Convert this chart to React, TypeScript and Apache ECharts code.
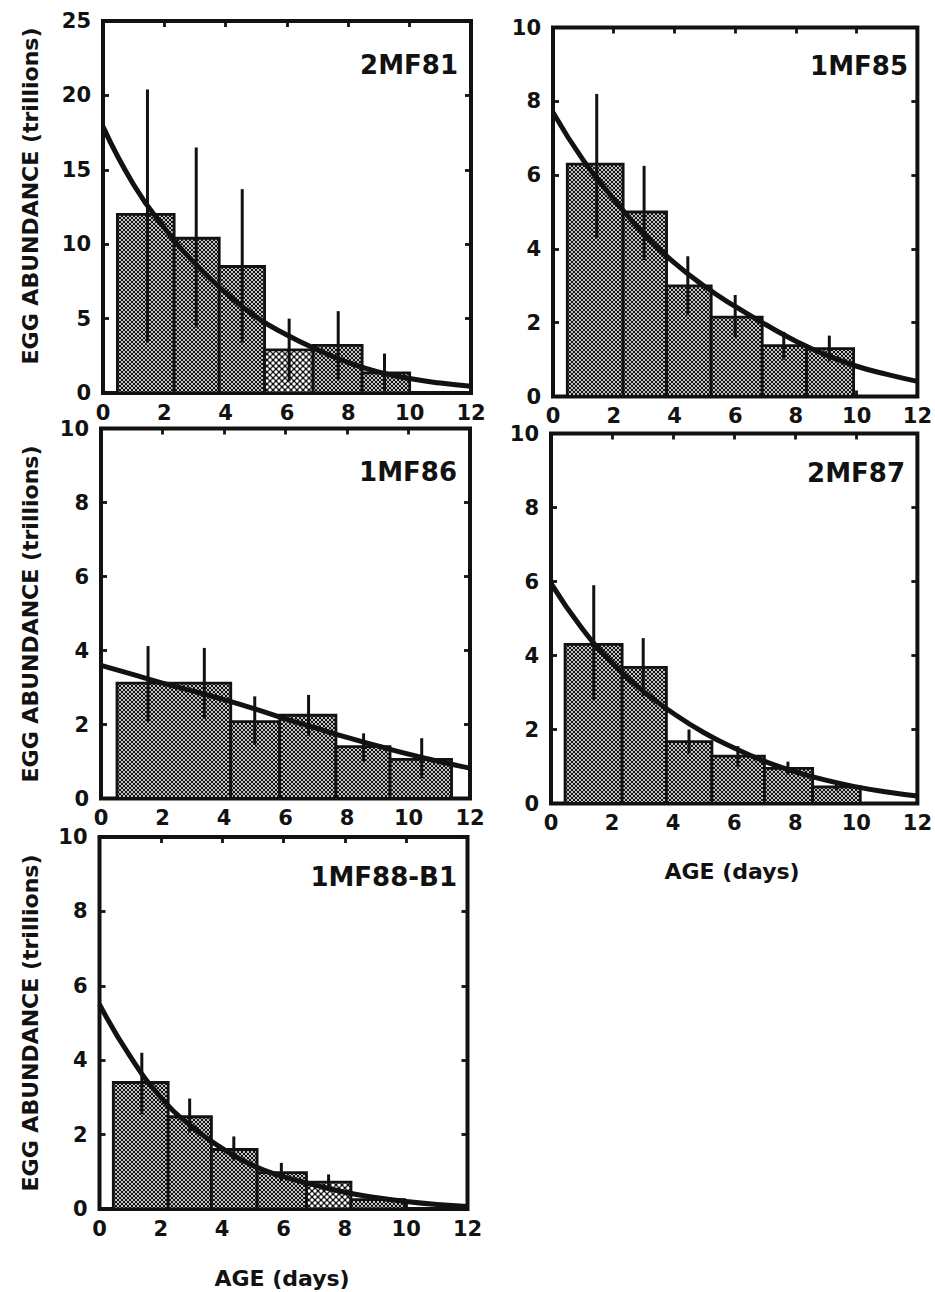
import React, { useEffect, useRef } from "react";
import * as echarts from "echarts";

// ---------- DATA ----------
// x axis: AGE (days), 0..12 step 2
const xMin = 0;
const xMax = 12;
const xStep = 2;

const panelNames = ["2MF81", "1MF85", "1MF86", "2MF87", "1MF88-B1"];
const yMaxes = [25, 10, 10, 10, 10];
const ySteps = [5, 2, 2, 2, 2];

// bins: [start age, end age, abundance]
const bins2MF81 = [[0.47, 2.32, 12.0], [2.32, 3.79, 10.4], [3.79, 5.27, 8.5], [5.27, 6.85, 2.9], [6.85, 8.45, 3.2], [8.45, 10.0, 1.35]];
const bins1MF85 = [[0.47, 2.31, 6.3], [2.31, 3.74, 5.0], [3.74, 5.21, 3.0], [5.21, 6.89, 2.15], [6.89, 8.35, 1.38], [8.35, 9.9, 1.3]];
const bins1MF86 = [[0.52, 4.22, 3.12], [4.22, 5.81, 2.08], [5.81, 7.64, 2.25], [7.64, 9.4, 1.4], [9.4, 11.4, 1.06]];
const bins2MF87 = [[0.46, 2.33, 4.3], [2.33, 3.78, 3.68], [3.78, 5.27, 1.67], [5.27, 6.99, 1.28], [6.99, 8.57, 0.95], [8.57, 10.13, 0.45]];
const bins1MF88 = [[0.45, 2.24, 3.4], [2.24, 3.65, 2.48], [3.65, 5.14, 1.6], [5.14, 6.75, 0.98], [6.75, 8.2, 0.72], [8.2, 9.95, 0.25]];

// bins drawn with the coarser hatch (indices)
const alt2MF81 = [3];
const alt1MF85: number[] = [];
const alt1MF86: number[] = [];
const alt2MF87: number[] = [];
const alt1MF88 = [4];

// error bars: [age, low, high]
const err2MF81 = [[1.45, 3.4, 20.4], [3.04, 4.4, 16.5], [4.54, 3.4, 13.7], [6.07, 0.8, 5.0], [7.67, 0.9, 5.5], [9.18, 0.1, 2.65]];
const err1MF85 = [[1.44, 4.3, 8.2], [3.0, 3.7, 6.25], [4.44, 2.2, 3.8], [6.0, 1.6, 2.75], [7.6, 1.0, 1.75], [9.1, 0.95, 1.65]];
const err1MF86 = [[1.53, 2.08, 4.12], [3.36, 2.15, 4.07], [5.0, 1.45, 2.76], [6.75, 1.7, 2.8], [8.54, 1.0, 1.76], [10.43, 0.55, 1.63]];
const err2MF87 = [[1.4, 2.8, 5.9], [3.02, 2.9, 4.47], [4.52, 1.35, 2.0], [6.12, 1.0, 1.55], [7.76, 0.77, 1.13], [9.35, 0.35, 0.55]];
const err1MF88 = [[1.38, 2.55, 4.2], [2.94, 2.05, 2.97], [4.38, 1.3, 1.95], [5.93, 0.75, 1.24], [7.47, 0.5, 0.93]];

// fitted mortality curves: [age, abundance]
const curve2MF81 = [[0, 17.9], [1, 14.0], [2, 11.1], [3, 8.7], [4, 6.75], [5, 5.1], [6, 3.9], [7, 2.9], [8, 2.05], [9, 1.4], [10, 0.97], [11, 0.67], [12, 0.45]];
const curve1MF85 = [[0, 7.7], [1, 6.4], [2, 5.35], [3, 4.4], [4, 3.62], [5, 2.98], [6, 2.44], [7, 1.95], [8, 1.5], [9, 1.12], [10, 0.82], [11, 0.6], [12, 0.41]];
const curve1MF86 = [[0, 3.6], [1, 3.36], [2, 3.12], [3, 2.9], [4, 2.67], [5, 2.42], [6, 2.15], [7, 1.9], [8, 1.65], [9, 1.42], [10, 1.2], [11, 1.0], [12, 0.82]];
const curve2MF87 = [[0, 5.95], [1, 4.75], [2, 3.8], [3, 3.05], [4, 2.44], [5, 1.92], [6, 1.5], [7, 1.14], [8, 0.86], [9, 0.63], [10, 0.45], [11, 0.31], [12, 0.2]];
const curve1MF88 = [[0, 5.5], [1, 4.1], [2, 3.0], [3, 2.22], [4, 1.63], [5, 1.17], [6, 0.87], [7, 0.65], [8, 0.45], [9, 0.31], [10, 0.2], [11, 0.12], [12, 0.07]];

const yTitle = "EGG ABUNDANCE (trillions)";
const xTitle = "AGE (days)";

const allBins = [bins2MF81, bins1MF85, bins1MF86, bins2MF87, bins1MF88];
const allAlt = [alt2MF81, alt1MF85, alt1MF86, alt2MF87, alt1MF88];
const allErr = [err2MF81, err1MF85, err1MF86, err2MF87, err1MF88];
const allCurve = [curve2MF81, curve1MF85, curve1MF86, curve2MF87, curve1MF88];

// ---------- LAYOUT ----------
const layout = [
  { left: 103, top: 21, width: 368, height: 372, lx: 458, ly: 65, yt: [30, 196] as number[] | null, xt: null as number[] | null },
  { left: 553, top: 27.5, width: 367, height: 369, lx: 908, ly: 66, yt: null, xt: null },
  { left: 101, top: 428.5, width: 369, height: 370, lx: 457, ly: 472, yt: [30, 614], xt: null },
  { left: 551, top: 433.5, width: 367, height: 370, lx: 905, ly: 473, yt: null, xt: [732, 871] },
  { left: 99.5, top: 837, width: 368, height: 372, lx: 457, ly: 877, yt: [30, 1023], xt: [282, 1278] },
];

const INK = "#121212";
const FONT = "DejaVu Sans";

function makePattern(period: number, r: number) {
  const c = document.createElement("canvas");
  c.width = period;
  c.height = period;
  const ctx = c.getContext("2d")!;
  ctx.fillStyle = INK;
  ctx.fillRect(0, 0, period, period);
  ctx.fillStyle = "#ffffff";
  const pts = [[0, 0], [period, 0], [0, period], [period, period], [period / 2, period / 2]];
  for (const [x, y] of pts) {
    ctx.beginPath();
    ctx.arc(x, y, r, 0, Math.PI * 2);
    ctx.fill();
  }
  return { image: c, repeat: "repeat", imageWidth: period, imageHeight: period } as any;
}

export default function App() {
  const ref = useRef<HTMLDivElement>(null);

  useEffect(() => {
    document.body.style.margin = "0";
    if (!ref.current) return;
    const chart = echarts.init(ref.current, undefined, { renderer: "svg" });
    const pattern = makePattern(4, 1.0);
    const altPattern = makePattern(6, 1.7);

    const grids: any[] = [];
    const xAxes: any[] = [];
    const yAxes: any[] = [];
    const series: any[] = [];
    const graphic: any[] = [];

    const tick = { show: true, inside: true, length: 6, lineStyle: { color: INK, width: 2.8 } };
    const label = { color: INK, fontFamily: FONT, fontWeight: "bold", fontSize: 21 };

    panelNames.forEach((name, i) => {
      const L = layout[i];
      grids.push({
        left: L.left, top: L.top, width: L.width, height: L.height,
        show: true, borderColor: INK, borderWidth: 4, backgroundColor: "transparent",
      });
      xAxes.push({
        type: "value", gridIndex: i, min: xMin, max: xMax, interval: xStep, position: "bottom",
        axisLine: { show: false, onZero: false }, axisTick: tick, splitLine: { show: false },
        axisLabel: { ...label, margin: 9, showMinLabel: true, showMaxLabel: true },
      });
      xAxes.push({
        type: "value", gridIndex: i, min: xMin, max: xMax, interval: xStep, position: "top",
        axisLine: { show: false, onZero: false }, axisTick: tick, splitLine: { show: false },
        axisLabel: { show: false },
      });
      yAxes.push({
        type: "value", gridIndex: i, min: 0, max: yMaxes[i], interval: ySteps[i], position: "left",
        axisLine: { show: false, onZero: false }, axisTick: tick, splitLine: { show: false },
        axisLabel: { ...label, margin: 12, showMinLabel: true, showMaxLabel: true },
      });
      yAxes.push({
        type: "value", gridIndex: i, min: 0, max: yMaxes[i], interval: ySteps[i], position: "right",
        axisLine: { show: false, onZero: false }, axisTick: tick, splitLine: { show: false },
        axisLabel: { show: false },
      });

      const alt = allAlt[i];
      series.push({
        type: "custom", name: name + " bins", xAxisIndex: 2 * i, yAxisIndex: 2 * i, z: 2,
        data: allBins[i].map((b, j) => [b[0], b[1], b[2], alt.includes(j) ? 1 : 0]),
        encode: { x: [0, 1], y: 2 },
        renderItem: (_p: any, api: any) => {
          const a = api.coord([api.value(0), 0]);
          const b = api.coord([api.value(1), api.value(2)]);
          return {
            type: "rect",
            shape: { x: a[0], y: b[1], width: b[0] - a[0], height: a[1] - b[1] },
            style: { fill: api.value(3) ? altPattern : pattern, stroke: INK, lineWidth: 2.8 },
          };
        },
      });
      series.push({
        type: "custom", name: name + " errors", xAxisIndex: 2 * i, yAxisIndex: 2 * i, z: 3,
        data: allErr[i],
        encode: { x: 0, y: [1, 2] },
        renderItem: (_p: any, api: any) => {
          const a = api.coord([api.value(0), api.value(1)]);
          const b = api.coord([api.value(0), api.value(2)]);
          return {
            type: "line",
            shape: { x1: a[0], y1: a[1], x2: b[0], y2: b[1] },
            style: { stroke: INK, lineWidth: 3 },
          };
        },
      });
      series.push({
        type: "line", name: name + " fit", xAxisIndex: 2 * i, yAxisIndex: 2 * i, z: 4,
        data: allCurve[i], smooth: true, showSymbol: false, symbol: "none",
        lineStyle: { color: INK, width: 5 },
      });

      graphic.push({
        type: "text", x: L.lx, y: L.ly, z: 10,
        style: { text: name, fill: INK, font: `bold 26px "${FONT}"`, align: "right", textAlign: "right", verticalAlign: "middle", textVerticalAlign: "middle" },
      });
      if (L.yt) {
        graphic.push({
          type: "text", x: L.yt[0], y: L.yt[1], rotation: Math.PI / 2, z: 10,
          style: { text: yTitle, fill: INK, font: `bold 22px "${FONT}"`, align: "center", textAlign: "center", verticalAlign: "middle", textVerticalAlign: "middle" },
        });
      }
      if (L.xt) {
        graphic.push({
          type: "text", x: L.xt[0], y: L.xt[1], z: 10,
          style: { text: xTitle, fill: INK, font: `bold 22px "${FONT}"`, align: "center", textAlign: "center", verticalAlign: "middle", textVerticalAlign: "middle" },
        });
      }
    });

    chart.setOption({
      animation: false,
      backgroundColor: "#ffffff",
      grid: grids,
      xAxis: xAxes,
      yAxis: yAxes,
      series,
      graphic,
    });

    return () => chart.dispose();
  }, []);

  return <div ref={ref} style={{ width: 935, height: 1292 }} />;
}
